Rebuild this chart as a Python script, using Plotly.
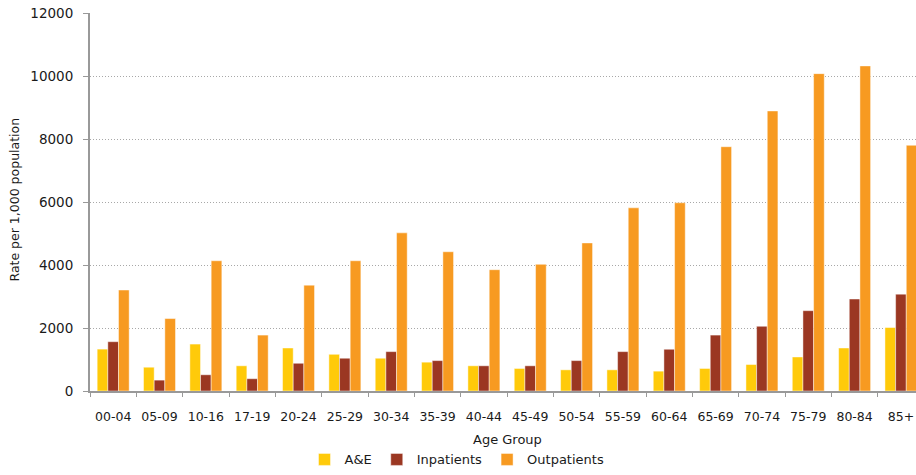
import plotly.graph_objects as go

age_groups = ["00-04", "05-09", "10-16", "17-19", "20-24", "25-29", "30-34", "35-39",
              "40-44", "45-49", "50-54", "55-59", "60-64", "65-69", "70-74", "75-79",
              "80-84", "85+"]
ae = [1330, 755, 1490, 800, 1365, 1165, 1040, 915, 800, 715, 672, 672, 630, 715, 840,
      1080, 1365, 2015]
inpatients = [1565, 345, 515, 390, 880, 1040, 1250, 965, 800, 800, 965, 1250, 1325,
              1775, 2055, 2550, 2920, 3075]
outpatients = [3205, 2300, 4135, 1775, 3360, 4135, 5020, 4420, 3850, 4020, 4700, 5815,
               5975, 7755, 8890, 10075, 10320, 7800]

series_names = ["A&E", "Inpatients", "Outpatients"]
series_colors = ["#FFCA0A", "#9B3722", "#F79A21"]

FONT = "DejaVu Sans"
TXT = "#1a1a1a"

fig = go.Figure()
for name, vals, col in zip(series_names, [ae, inpatients, outpatients], series_colors):
    fig.add_trace(go.Bar(
        x=age_groups, y=vals, name=name,
        marker=dict(color=col, line=dict(color="rgba(255,255,255,0.45)", width=1)),
    ))

W, H = 916, 475
L, T, B = 90, 13, 81
pw = W - L
ph = H - T - B
cat_w = 46.34
x_end = -0.5 + pw / cat_w

fig.update_layout(
    width=W, height=H,
    margin=dict(l=L, r=0, t=T, b=B, pad=0),
    paper_bgcolor="white", plot_bgcolor="white",
    barmode="group", bargap=0.31, bargroupgap=0,
    font=dict(family=FONT, color=TXT),
    showlegend=True,
    legend=dict(orientation="h", x=(457 - L) / pw, xanchor="center",
                y=(T + ph - 463) / ph, yanchor="middle",
                font=dict(family=FONT, size=13, color=TXT),
                itemwidth=30, traceorder="normal", bgcolor="rgba(0,0,0,0)"),
    xaxis=dict(
        type="category", range=[-0.5, x_end], showgrid=False,
        showline=True, linecolor="#999999", linewidth=2,
        ticks="outside", tickson="boundaries", ticklen=4, tickcolor="#999999",
        tickfont=dict(family=FONT, size=12.5, color=TXT),
        ticklabelstandoff=13,
    ),
    yaxis=dict(
        range=[0, 12000], dtick=2000, tick0=0, tickformat="d",
        showgrid=True, gridcolor="#a8a8a8", griddash="1px,2px", gridwidth=1,
        showline=True, linecolor="#999999", linewidth=2,
        ticks="outside", ticklen=5, tickcolor="#999999",
        tickfont=dict(family=FONT, size=13.5, color=TXT),
        ticklabelstandoff=7, zeroline=False,
    ),
    annotations=[
        dict(text="Rate per 1,000 population", xref="paper", yref="paper",
             x=(15 - L) / pw, y=(T + ph - 201) / ph, xanchor="center", yanchor="middle",
             textangle=-90, showarrow=False,
             font=dict(family=FONT, size=12.5, color=TXT)),
        dict(text="Age Group", xref="paper", yref="paper",
             x=(507 - L) / pw, y=(T + ph - 443) / ph, xanchor="center", yanchor="middle",
             showarrow=False, font=dict(family=FONT, size=13, color=TXT)),
    ],
)

fig.write_html("out.html", config={"displayModeBar": False},
               post_script="document.body.style.margin='0';")
